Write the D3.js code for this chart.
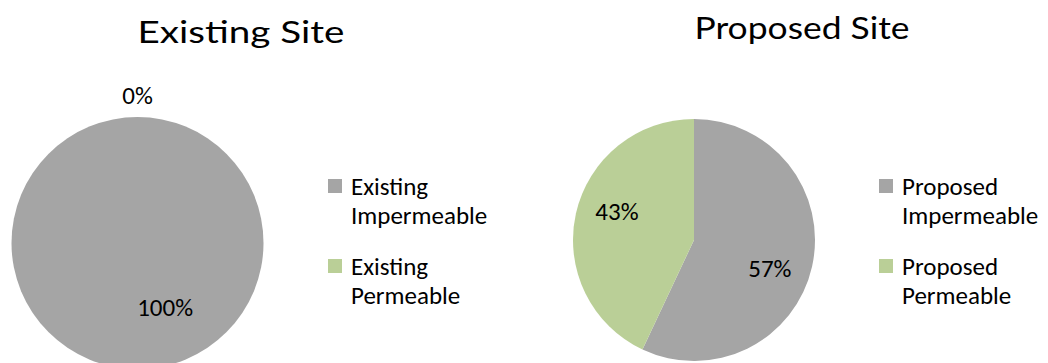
<!DOCTYPE html>
<html>
<head>
<meta charset="utf-8">
<script src="https://cdn.jsdelivr.net/npm/d3@7"></script>
<style>
  html, body { margin: 0; padding: 0; background: #fff; }
  svg { display: block; }
</style>
</head>
<body>
<svg id="chart" width="1048" height="363"></svg>
<script>
// ---- data ----
const existingTitle = "Existing Site";
const existingCategories = ["Existing Impermeable", "Existing Permeable"];
const existingValues = [100, 0];

const proposedTitle = "Proposed Site";
const proposedCategories = ["Proposed Impermeable", "Proposed Permeable"];
const proposedValues = [57, 43];

const sliceColors = ["#A5A5A5", "#BACF97"];

// ---- layout (styling only) ----
const charts = [
  { title: existingTitle, categories: existingCategories, values: existingValues,
    cx: 137.5, cy: 243, r: 126,
    titleX: 241, titleY: 43, titleLen: 207,
    legendX: 328, legendY: 179,
    labelR: [0.56, 1.17], labelShift: [-23, 0] },
  { title: proposedTitle, categories: proposedCategories, values: proposedValues,
    cx: 694, cy: 240, r: 121,
    titleX: 802, titleY: 39, titleLen: 215,
    legendX: 879, legendY: 179,
    labelR: [0.67, 0.68], labelShift: [8, 8] }
];

const svg = d3.select("#chart");
const textFont = "Carlito, Calibri, Lato, 'Liberation Sans', sans-serif";
const color = d3.scaleOrdinal().domain([0, 1]).range(sliceColors);

charts.forEach(c => {
  const g = svg.append("g");

  // title
  g.append("text")
    .attr("x", c.titleX).attr("y", c.titleY)
    .attr("text-anchor", "middle")
    .attr("font-family", "Lato, sans-serif")
    .attr("font-weight", 400)
    .attr("font-size", 30)
    .attr("textLength", c.titleLen)
    .attr("lengthAdjust", "spacingAndGlyphs")
    .attr("fill", "#000")
    .text(c.title);

  // pie
  const pie = d3.pie().sort(null).value(d => d)(c.values);
  const arc = d3.arc().innerRadius(0).outerRadius(c.r);
  const pg = g.append("g").attr("transform", `translate(${c.cx},${c.cy})`);
  pg.selectAll("path.slice")
    .data(pie)
    .join("path")
    .attr("class", "slice")
    .attr("d", arc)
    .attr("fill", (d, i) => color(i))
    .attr("stroke", "none");

  // labels
  const total = d3.sum(c.values);
  pg.selectAll("text.lbl")
    .data(pie)
    .join("text")
    .attr("class", "lbl")
    .attr("font-family", textFont)
    .attr("font-size", 25)
    .attr("fill", "#000")
    .attr("text-anchor", "middle")
    .attr("dominant-baseline", "central")
    .attr("transform", (d, i) => {
      const mid = (d.startAngle + d.endAngle) / 2 + c.labelShift[i] * Math.PI / 180;
      const rr = c.r * c.labelR[i];
      return `translate(${rr * Math.sin(mid)},${-rr * Math.cos(mid)})`;
    })
    .text(d => d3.format(".0%")(d.value / total));

  // legend
  const lg = g.append("g").attr("transform", `translate(${c.legendX},${c.legendY})`);
  const items = lg.selectAll("g.item")
    .data(c.categories)
    .join("g")
    .attr("class", "item")
    .attr("transform", (d, i) => `translate(0,${i * 80})`);
  items.append("rect")
    .attr("width", 14).attr("height", 14)
    .attr("fill", (d, i) => color(i));
  items.append("text")
    .attr("font-family", textFont)
    .attr("font-size", 25)
    .attr("fill", "#000")
    .selectAll("tspan")
    .data(d => d.split(" "))
    .join("tspan")
    .attr("x", 23)
    .attr("y", (d, j) => 16 + j * 29)
    .text(d => d);
});
</script>
</body>
</html>
